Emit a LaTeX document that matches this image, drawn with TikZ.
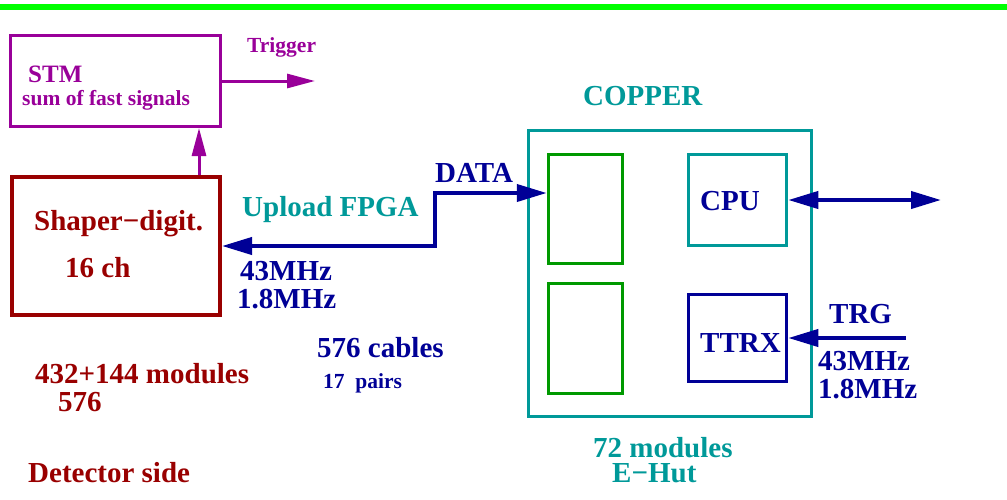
\documentclass[tikz,border=0pt]{standalone}
\usepackage{fontspec}
\setmainfont{Liberation Serif}
\usetikzlibrary{arrows.meta}
\definecolor{cpurple}{RGB}{153,0,153}
\definecolor{cdred}{RGB}{153,0,0}
\definecolor{cnavy}{RGB}{0,0,150}
\definecolor{cteal}{RGB}{0,153,153}
\definecolor{cgreen}{RGB}{0,153,0}
\definecolor{cbar}{RGB}{0,255,0}
\tikzset{
  txt/.style={anchor=base west, inner sep=0pt, font=\fontsize{29}{32}\selectfont\bfseries},
  smalltxt/.style={anchor=base west, inner sep=0pt, font=\fontsize{21.5}{24}\selectfont\bfseries},
  box/.style={draw, rectangle, inner sep=0pt, line width=3pt},
  navyarr/.style={draw=cnavy, line width=4pt, {Triangle[length=30pt,width=17pt]}-{Triangle[length=30pt,width=17pt]}},
  navyone/.style={draw=cnavy, line width=4pt, -{Triangle[length=30pt,width=17pt]}},
  purparr/.style={draw=cpurple, line width=3pt, -{Triangle[length=28pt,width=14pt]}},
}
\begin{document}
\begin{tikzpicture}[x=1pt,y=-1pt]
\useasboundingbox (0,0) rectangle (1007,499);
\fill[cbar] (0,4) rectangle (1007,10);

% boxes
\node[box, draw=cpurple, minimum width=210pt, minimum height=91pt] (stm) at (115.5,81) {};
\node[box, draw=cdred, line width=4pt, minimum width=208pt, minimum height=138pt] (shaper) at (116,246) {};
\node[box, draw=cteal, minimum width=283pt, minimum height=286pt] (copper) at (670,273.5) {};
\node[box, draw=cgreen, line width=3.5pt, minimum width=74pt, minimum height=109pt] (g1) at (585.5,209) {};
\node[box, draw=cgreen, line width=3.5pt, minimum width=74pt, minimum height=110pt] (g2) at (585.5,338.5) {};
\node[box, draw=cteal, line width=3.5pt, minimum width=98pt, minimum height=91pt] (cpu) at (737.5,200) {};
\node[box, draw=cnavy, line width=3.5pt, minimum width=98pt, minimum height=87pt] (ttrx) at (737.5,338) {};

% texts
\node[txt, text=cpurple, font=\fontsize{25}{28}\selectfont\bfseries] (tstm) at (28,82) {STM};
\node[smalltxt, text=cpurple] (tsum) at (22,105) {sum of fast signals};
\node[smalltxt, text=cpurple] (ttrig) at (247,52) {Trigger};
\node[txt, text=cdred] (tshaper) at (34,230) {Shaper−digit.};
\node[txt, text=cdred] (t16) at (65,277) {16 ch};
\node[txt, text=cteal] (tupload) at (242,216) {Upload FPGA};
\node[txt, text=cnavy] (tdata) at (435,182) {DATA};
\node[txt, text=cnavy] (tf1) at (240,280) {43MHz};
\node[txt, text=cnavy] (tf2) at (237,308) {1.8MHz};
\node[txt, text=cteal] (tcopper) at (583,105) {COPPER};
\node[txt, text=cnavy] (tcpu) at (700,210) {CPU};
\node[txt, text=cnavy] (tttrx) at (700,352) {TTRX};
\node[txt, text=cnavy] (ttrg) at (829,323) {TRG};
\node[txt, text=cnavy] (tf3) at (818,370) {43MHz};
\node[txt, text=cnavy] (tf4) at (818,398) {1.8MHz};
\node[txt, text=cdred] (tmod) at (35,383) {432+144 modules};
\node[txt, text=cdred] (t576) at (58,411) {576};
\node[txt, text=cdred] (tdet) at (28,482) {Detector side};
\node[txt, text=cnavy] (tcables) at (317,357) {576 cables};
\node[smalltxt, text=cnavy] (tpairs) at (323,388) {17\ \ pairs};
\node[txt, text=cteal] (t72) at (593,457) {72 modules};
\node[txt, text=cteal] (tehut) at (612,482) {E−Hut};

% connectors
\coordinate (trigout) at (315,81);
\coordinate (dj) at (435,193);
\coordinate (cpuout) at (941,200);
\coordinate (trgin) at (906,338);
\draw[purparr] (stm.east) -- (trigout);
\draw[purparr] ([xshift=83pt]shaper.north) -- ([xshift=83.5pt]stm.south);
\draw[navyarr] (shaper.east) -| (dj) -- (g1.west |- dj);
\draw[navyarr] (cpu.east) -- (cpuout);
\draw[navyone] (trgin) -- (ttrx.east);
\end{tikzpicture}
\end{document}
